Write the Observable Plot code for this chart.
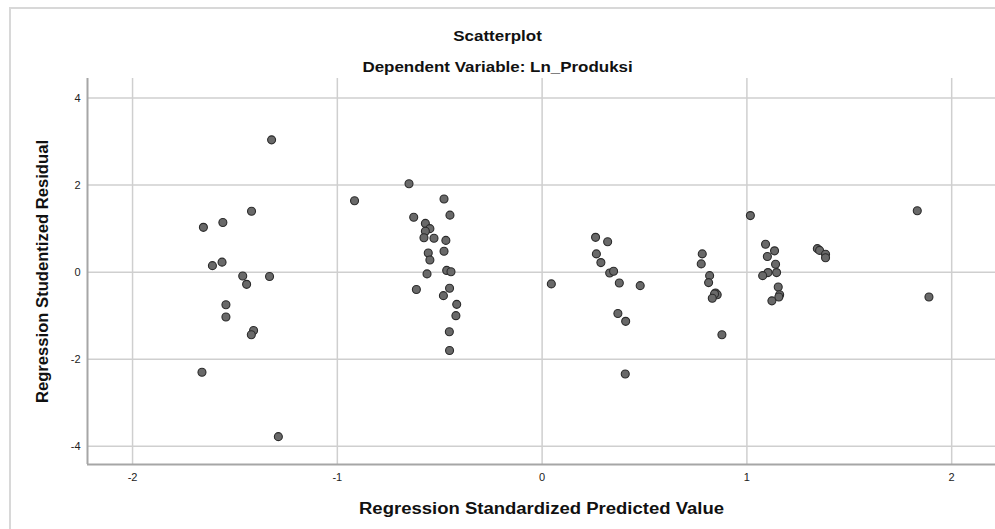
<!DOCTYPE html>
<html>
<head>
<meta charset="utf-8">
<script src="https://cdn.jsdelivr.net/npm/d3@7"></script>
<script src="https://cdn.jsdelivr.net/npm/@observablehq/plot@0.6"></script>
<style>
  html, body { margin: 0; padding: 0; background: #fff; overflow: hidden; }
  #wrap { position: relative; width: 995px; height: 529px; font-family: "Liberation Sans", Arial, sans-serif; }
  #frame { position: absolute; left: 9px; top: 7px; width: 1000px; height: 540px; border: 2px solid #d8d8d8; box-sizing: border-box; }
  .title { position: absolute; left: 0; width: 995px; text-align: center; font-weight: bold; font-size: 15px; color: #111; transform: scaleX(1.13); transform-origin: 497px 0; }
  #chart { position: absolute; left: 0; top: 0; }
</style>
</head>
<body>
<div id="wrap">
  <div id="frame"></div>
  <div id="chart"></div>
  <div class="title" style="top:27px">Scatterplot</div>
  <div class="title" style="top:58px">Dependent Variable: Ln_Produksi</div>
</div>
<script>
// Regression Standardized Predicted Value
const predicted = [
  -1.321, -1.419, -1.559, -1.654, -1.563, -1.610, -0.916, -0.650,
  -1.462, -1.331, -1.443, -1.544, -1.544, -1.409, -1.420, -1.661, -1.288,
  -0.479, -0.450, -0.627, -0.570, -0.548, -0.570, -0.577, -0.528, -0.470,
  -0.479, -0.556, -0.548, -0.466, -0.445, -0.562, -0.614, -0.452, -0.482,
  -0.417, -0.421, -0.453, -0.452,
  0.045, 0.261, 0.320, 0.265, 0.287, 0.330, 0.349, 0.377, 0.479, 0.370,
  0.408, 0.406, 0.782, 0.777, 0.818, 0.813, 0.847, 0.855, 0.842, 0.831,
  0.878, 1.017,
  1.091, 1.135, 1.100, 1.140, 1.103, 1.145, 1.077, 1.153, 1.160, 1.156,
  1.122, 1.344, 1.355, 1.384, 1.384, 1.832, 1.889
];
// Regression Studentized Residual
const residual = [
  3.04, 1.40, 1.14, 1.03, 0.23, 0.15, 1.64, 2.03,
  -0.09, -0.10, -0.28, -0.75, -1.03, -1.34, -1.44, -2.30, -3.78,
  1.68, 1.31, 1.26, 1.12, 1.00, 0.94, 0.79, 0.78, 0.73,
  0.48, 0.44, 0.28, 0.04, 0.01, -0.04, -0.40, -0.37, -0.54,
  -0.74, -1.00, -1.37, -1.80,
  -0.27, 0.80, 0.70, 0.42, 0.22, -0.02, 0.02, -0.25, -0.31, -0.95,
  -1.13, -2.34, 0.42, 0.19, -0.08, -0.24, -0.48, -0.52, -0.50, -0.60,
  -1.44, 1.30,
  0.64, 0.49, 0.36, 0.18, -0.01, -0.01, -0.08, -0.34, -0.52, -0.57,
  -0.66, 0.54, 0.50, 0.41, 0.33, 1.41, -0.57
];
const xTicks = [-2, -1, 0, 1, 2];
const yTicks = [-4, -2, 0, 2, 4];
const xDomain = [-2.22, 2.214];
const yDomain = [-4.42, 4.45];
const xTitle = "Regression Standardized Predicted Value";
const yTitle = "Regression Studentized Residual";

const points = predicted.map((x, i) => ({x, y: residual[i]}));

const chart = Plot.plot({
  width: 995,
  height: 529,
  marginTop: 78,
  marginBottom: 65,
  marginLeft: 87,
  marginRight: 0,
  style: {fontFamily: "'Liberation Sans', Arial, sans-serif", fontSize: "11px", color: "#222", background: "transparent"},
  x: {domain: xDomain, ticks: xTicks},
  y: {domain: yDomain, ticks: yTicks},
  marks: [
    Plot.gridX(xTicks, {stroke: "#cfcfcf", strokeOpacity: 1, strokeWidth: 1.5}),
    Plot.gridY(yTicks, {stroke: "#cfcfcf", strokeOpacity: 1, strokeWidth: 1.5}),
    Plot.ruleX([xDomain[0]], {stroke: "#a6a6a6", strokeWidth: 2}),
    Plot.ruleY([yDomain[0]], {stroke: "#a6a6a6", strokeWidth: 2}),
    Plot.axisX(xTicks, {tickSize: 0, tickPadding: 9, label: null, tickFormat: d => String(d).replace("−", "-"), fontSize: 11, fill: "#222"}),
    Plot.axisY(yTicks, {tickSize: 0, tickPadding: 7, label: null, tickFormat: d => String(d).replace("−", "-"), fontSize: 11, fill: "#222"}),
    Plot.dot(points, {x: "x", y: "y", r: 4, fill: "#696969", stroke: "#2b2b2b", strokeWidth: 1.1}),
    Plot.text([xTitle], {frameAnchor: "bottom", dy: 44, lineAnchor: "middle", fontSize: 16, fontWeight: "bold", fill: "#111", text: d => d, className: "xtitle"}),
    Plot.text([yTitle], {frameAnchor: "left", dx: -45, rotate: -90, textAnchor: "middle", lineAnchor: "middle", fontSize: 16, fontWeight: "bold", fill: "#111", text: d => d, className: "ytitle"})
  ]
});
document.getElementById("chart").appendChild(chart);
// stretch axis titles to the reference's widths
const xt = chart.querySelector(".xtitle text");
if (xt) { xt.setAttribute("textLength", 365); xt.setAttribute("lengthAdjust", "spacingAndGlyphs"); }
const yt = chart.querySelector(".ytitle text");
if (yt) { yt.setAttribute("textLength", 263); yt.setAttribute("lengthAdjust", "spacingAndGlyphs"); }
</script>
</body>
</html>
